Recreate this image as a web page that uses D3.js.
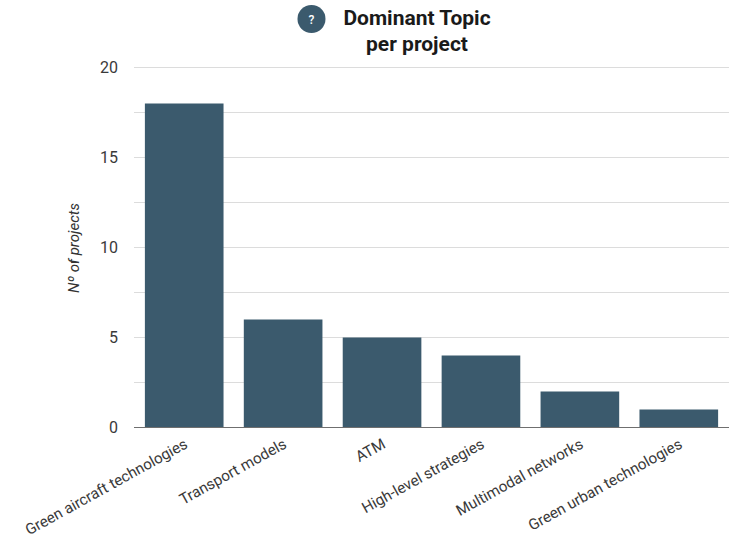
<!DOCTYPE html>
<html>
<head>
<meta charset="utf-8">
<script src="https://cdn.jsdelivr.net/npm/d3@7"></script>
<style>
    html, body { margin: 0; padding: 0; background: #fff; }
    svg { display: block; }
    text { font-family: Roboto, sans-serif; }
</style>
</head>
<body>
<svg id="chart" width="729" height="540"></svg>
<script>
const categories = ['Green aircraft technologies', 'Transport models', 'ATM', 'High-level strategies', 'Multimodal networks', 'Green urban technologies'];
const projects = [18, 6, 5, 4, 2, 1];
const yTicks = [0, 5, 10, 15, 20];
const yGrid = [2.5, 5, 7.5, 10, 12.5, 15, 17.5, 20];
const titleLines = ['Dominant Topic', 'per project'];

const svg = d3.select('#chart');
const barColor = '#3b5a6d';

const x = d3.scaleBand().domain(categories).range([134.5, 728.5]).paddingInner(0.205).paddingOuter(0.105);
const y = d3.scaleLinear().domain([0, 20]).range([427.5, 67.5]);

// gridlines sit behind the bars
svg.append('g').selectAll('line').data(yGrid).join('line')
    .attr('x1', 134).attr('x2', 729)
    .attr('y1', d => y(d)).attr('y2', d => y(d))
    .attr('stroke', '#dcdcdc').attr('stroke-width', 1);

svg.append('g').selectAll('rect').data(projects).join('rect')
    .attr('x', (d, i) => x(categories[i]))
    .attr('y', d => y(d))
    .attr('width', x.bandwidth())
    .attr('height', d => y(0) - y(d))
    .attr('fill', barColor);

// baseline
svg.append('line')
    .attr('x1', 134).attr('x2', 729)
    .attr('y1', y(0)).attr('y2', y(0))
    .attr('stroke', '#6f6f6f').attr('stroke-width', 1);

const yAxis = d3.axisLeft(y).tickValues(yTicks).tickSize(0).tickPadding(16);
const yg = svg.append('g').attr('transform', 'translate(134,0)').call(yAxis);
yg.select('.domain').remove();
yg.selectAll('text').attr('font-size', 16).attr('fill', '#3a3a3a').style('font-family', 'Roboto, sans-serif');

const xAxis = d3.axisBottom(x).tickSize(0);
const xg = svg.append('g').attr('transform', 'translate(0,' + y(0) + ')').call(xAxis);
xg.select('.domain').remove();
xg.selectAll('text')
    .attr('font-size', 15.2)
    .attr('fill', '#3a3a3a')
    .style('font-family', 'Roboto, sans-serif')
    .attr('text-anchor', 'end')
    .attr('dy', 0)
    .attr('transform', 'translate(3,17) rotate(-29)');

svg.append('text')
    .attr('transform', 'translate(79,248) rotate(-90)')
    .attr('text-anchor', 'middle')
    .attr('font-size', 15)
    .attr('font-style', 'italic')
    .attr('fill', '#333')
    .text('Nº of projects');

// title with the round help badge
svg.append('circle').attr('cx', 311.5).attr('cy', 19).attr('r', 14).attr('fill', barColor);
svg.append('text')
    .attr('x', 311.5).attr('y', 23.5)
    .attr('text-anchor', 'middle')
    .attr('font-size', 12)
    .attr('font-weight', 500)
    .attr('fill', '#fff')
    .text('?');

svg.append('g').selectAll('text').data(titleLines).join('text')
    .attr('x', 417)
    .attr('y', (d, i) => 25 + i * 26)
    .attr('text-anchor', 'middle')
    .attr('font-size', 21)
    .attr('font-weight', 700)
    .attr('fill', '#1a1a1a')
    .text(d => d);
</script>
</body>
</html>
